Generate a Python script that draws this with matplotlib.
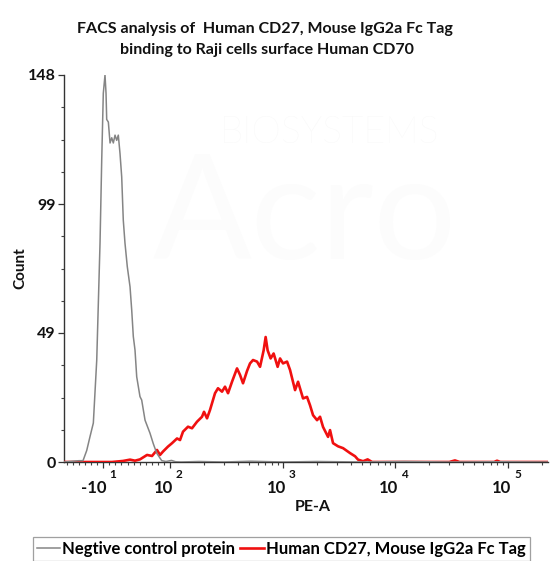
import matplotlib
matplotlib.use("Agg")
import matplotlib.pyplot as plt
from matplotlib.lines import Line2D

plt.rcParams['font.family'] = ['Lato', 'DejaVu Sans']

title_lines = ["FACS analysis of  Human CD27, Mouse IgG2a Fc Tag",
               "binding to Raji cells surface Human CD70"]
series_names = ["Negtive control protein", "Human CD27, Mouse IgG2a Fc Tag"]

gray_x = [-74, -60, -50, -43.3, -37.2, -31.8, -26.3, -20.7, -15.3, -12.5, -9.9, -7.1, -5.4, -4.3,
          -1.6, 1.2, 4.0, 6.6, 9.4, 12.2, 14.8, 17.6, 20.4, 23.0, 25.8, 29.6, 34.1, 36.9, 39.5, 42.3,
          45.1, 50.5, 53.3, 58.8, 67.0, 72.4, 78.0, 86.3, 93.3, 103, 112, 125, 180, 300, 520, 1000,
          2000, 5000, 12000, 30000, 80000, 225000]
gray_y = [0, 0.3, 0.5, 0.5, 4.4, 9.7, 14.9, 39, 83.7, 115.5, 141, 148, 141, 131,
          130, 122, 124, 122, 125, 123, 125, 118, 109, 92.5, 83.7, 74.7, 67, 58, 48, 42.8,
          32.6, 25, 23.7, 16, 11, 7, 3.4, 0.5, 0.2, 0.6, 0.1, 0, 0.2, 0, 0.3, 0,
          0.2, 0, 0.2, 0, 0.1, 0]

red_x = [-74, 4.4, 22.6, 34.1, 42.3, 50.5, 62.1, 70.3, 78.5, 83.5, 88.4, 96.6, 104.1, 115.3, 122.6,
         130.3, 144.3, 156.6, 173.4, 192.1, 200.1, 212.8, 226.2, 250.5, 266.3, 289.1, 307.3, 326.8,
         354.6, 392.7, 417.6, 443.9, 481.7, 512.2, 544.6, 591.0, 628.5, 676.5, 704.7, 733.9, 780.3,
         829.5, 900.3, 946, 1005, 1091, 1160, 1285, 1366, 1513, 1641, 1745, 1856, 2014, 2141, 2276,
         2522, 2626, 2792, 3093, 3425, 3953, 4377, 4655, 5155, 5660, 6194, 11000, 30000, 33700,
         37000, 75000, 79600, 85000, 225000]
red_y = [0, 0, 0.4, 0.9, 0.5, 1.0, 2.7, 2.3, 4.6, 2.7, 4.0, 5.9, 7.2, 9.0, 8.4,
         11.6, 13.5, 12.9, 15.4, 17.3, 19.2, 16.7, 19.9, 26.3, 28.2, 26.9, 28.8, 26.3,
         30.7, 35.8, 33.3, 30.1, 34.8, 37.7, 39.0, 38.4, 36.4, 42.7, 47.8, 42.7, 39.6,
         41.5, 36.4, 39.6, 37.7, 38.4, 35.2, 27.5, 30.7, 24.3, 24.9, 21.7, 17.9, 16.0, 17.3, 13.4,
         9.6, 12.2, 7.2, 6.0, 5.3, 3.4, 2.2, 0.9, 0.3, 1.0, 0, 0, 0, 0.6,
         0, 0, 0.5, 0, 0]

x_ticks = [-10, 100, 1000, 10000, 100000]
x_tick_bases = ["-10", "10", "10", "10", "10"]
x_tick_exps = ["1", "2", "3", "4", "5"]
y_max = 148
y_ticks = [0, 148 / 3, 2 * 148 / 3, 148]
y_tick_labels = ["0", "49", "99", "148"]

PX = 0.72  # points per pixel at 100 dpi

fig = plt.figure(figsize=(5.52, 5.61), dpi=100)
ax = fig.add_axes([64 / 552, 1 - 462 / 561, (548 - 64) / 552, (462 - 75) / 561])

# faint watermark
fig.text(329 / 552, 1 - 133 / 561, "BIOSYSTEMS", fontsize=27, color="#f7f7f7",
         ha="center", va="center", zorder=0, fontweight='light')
fig.text(305 / 552, 1 - 152 / 561, "Acro", fontsize=105, color="#fcfcfc",
         ha="center", va="top", zorder=0)

ax.plot(red_x, red_y, color="#f01010", lw=1.9, zorder=3)
ax.plot(gray_x, gray_y, color="#858585", lw=1.1, zorder=4)

ax.set_xscale('symlog', linthresh=100, linscale=0.485, base=10)
ax.set_xlim(-74.6, 225400)
ax.set_ylim(0, y_max)

ax.set_xticks(x_ticks)
ax.set_xticklabels([])
minor_x = [v for v in range(-70, 100, 10) if v not in (-10,)]
for k in (100, 1000, 10000, 100000):
    minor_x += [m * k for m in range(2, 10) if m * k < 225400]
ax.set_xticks(minor_x, minor=True)

for xv, base, ex in zip(x_ticks, x_tick_bases, x_tick_exps):
    ax.annotate(base, xy=(xv, 0), xycoords=('data', 'axes fraction'),
                xytext=(3 * PX, -26 * PX), textcoords='offset points',
                ha='right', va='center', fontsize=12, fontweight='bold', color="#111111")
    ax.annotate(ex, xy=(xv, 0), xycoords=('data', 'axes fraction'),
                xytext=(6 * PX, -13 * PX), textcoords='offset points',
                ha='left', va='center', fontsize=8.5, fontweight='bold', color="#111111")

ax.set_yticks(y_ticks)
ax.set_yticklabels(y_tick_labels, fontsize=11.5, fontweight='bold')
ax.set_yticks([i * 148 / 12 for i in range(13) if i % 4], minor=True)

for s in ("top", "right"):
    ax.spines[s].set_visible(False)
for s in ("left", "bottom"):
    ax.spines[s].set_color("#333333")
    ax.spines[s].set_linewidth(1.0)

ax.tick_params(axis='x', which='major', length=4, width=0.9, colors="#333333")
ax.tick_params(axis='x', which='minor', length=2.5, width=0.8, colors="#444444")
ax.tick_params(axis='y', which='major', length=4, width=0.9, pad=2, colors="#333333", labelcolor="#111111")
ax.tick_params(axis='y', which='minor', length=2.5, width=0.8, colors="#444444")

ax.set_xlabel("PE-A", fontsize=11.5, fontweight='bold', color="#111111")
ax.xaxis.set_label_coords((313 - 64) / 484, (462 - 500) / 387)
ax.set_ylabel("Count", fontsize=11, fontweight='bold', color="#111111")
ax.yaxis.set_label_coords((27 - 64) / 484, 0.5)

fig.text(265 / 552, 1 - 29 / 561, title_lines[0], fontsize=11.5, fontweight='bold',
         ha='center', va='center', color="#111111")
fig.text(267 / 552, 1 - 50 / 561, title_lines[1], fontsize=11.5, fontweight='bold',
         ha='center', va='center', color="#111111")

handles = [Line2D([], [], color="#858585", lw=1.1), Line2D([], [], color="#f01010", lw=1.9)]
leg = fig.legend(handles, series_names, loc='upper left', bbox_to_anchor=(33 / 552, 1 - 537 / 561),
                 ncol=2, frameon=True, fancybox=False, handlelength=1.4, handletextpad=0.12,
                 columnspacing=0.3, borderpad=0.25, borderaxespad=0,
                 prop={'size': 12, 'weight': 'bold'})
leg.get_frame().set_edgecolor("#888888")
leg.get_frame().set_linewidth(0.9)

fig.savefig("out.png", dpi=100)
